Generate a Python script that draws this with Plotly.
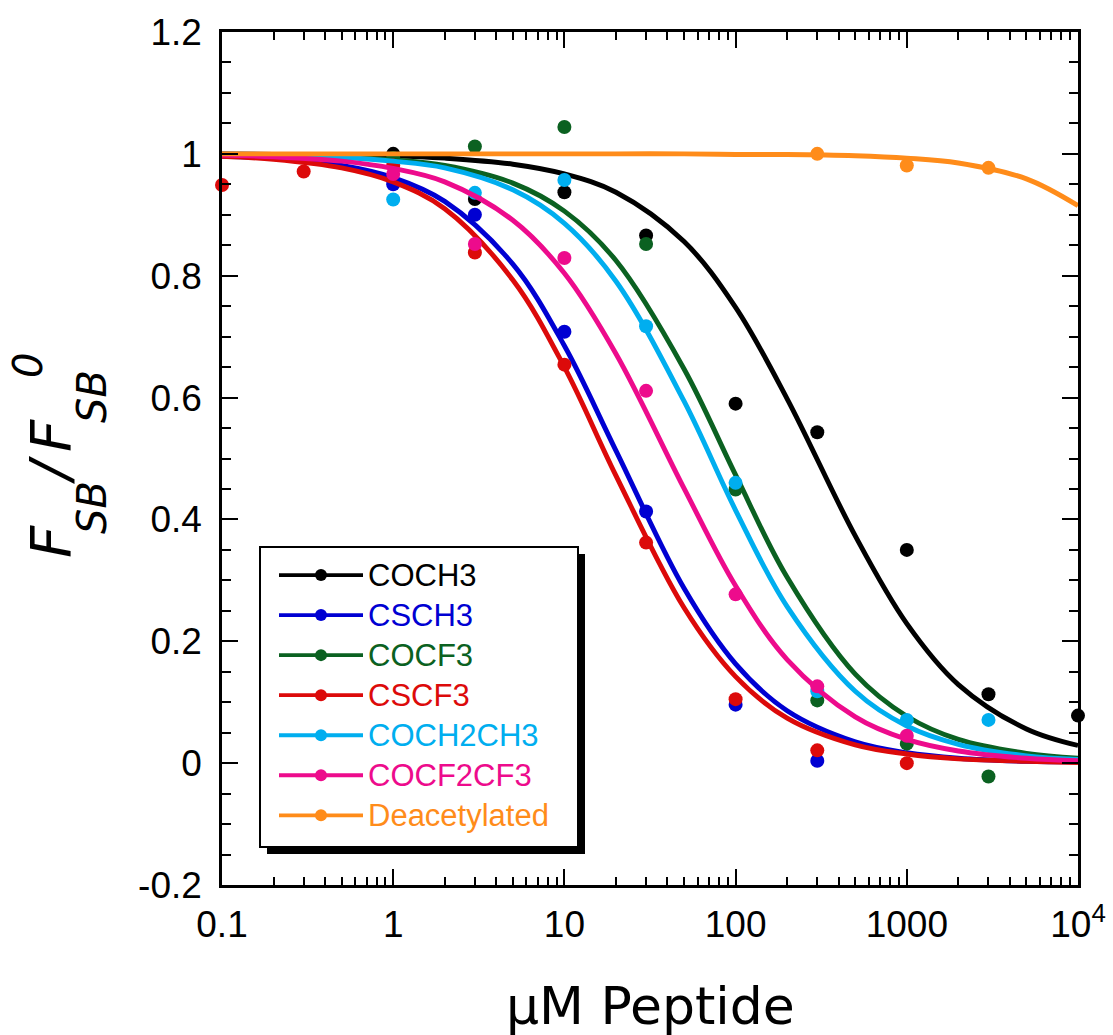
import plotly.graph_objects as go

# ---------------- data ----------------
series_names = ["COCH3", "CSCH3", "COCF3", "CSCF3", "COCH2CH3", "COCF2CF3", "Deacetylated"]
series_colors = ["#000000", "#0000d2", "#0b6121", "#dc0a0a", "#00aeef", "#ed0b8c", "#ff8c1a"]

fit_conc = [0.1, 0.2, 0.5, 1, 2, 5, 10, 20, 50, 100, 200, 500, 1000, 2000, 5000, 10000]

coch3_conc = [1, 3, 10, 30, 100, 300, 1000, 3000, 10000]
coch3_ratio = [1.0, 0.926, 0.937, 0.866, 0.590, 0.543, 0.350, 0.113, 0.078]
coch3_fit = [1.000, 0.999, 0.998, 0.997, 0.993, 0.983, 0.967, 0.937, 0.856, 0.748,
             0.598, 0.373, 0.229, 0.129, 0.056, 0.029]

csch3_conc = [1, 3, 10, 30, 100, 300]
csch3_ratio = [0.950, 0.900, 0.708, 0.413, 0.096, 0.004]
csch3_fit = [0.996, 0.993, 0.981, 0.961, 0.922, 0.819, 0.685, 0.513, 0.287, 0.163,
             0.086, 0.035, 0.017, 0.008, 0.003, 0.002]

cocf3_conc = [1, 3, 10, 30, 100, 300, 1000, 3000]
cocf3_ratio = [0.993, 1.012, 1.044, 0.852, 0.449, 0.103, 0.032, -0.022]
cocf3_fit = [0.999, 0.998, 0.995, 0.990, 0.981, 0.952, 0.906, 0.825, 0.647, 0.473,
             0.305, 0.146, 0.077, 0.039, 0.016, 0.008]

cscf3_conc = [0.1, 0.3, 1, 3, 10, 30, 100, 300, 1000]
cscf3_ratio = [0.949, 0.971, 0.981, 0.838, 0.654, 0.362, 0.105, 0.021, 0.0]
cscf3_fit = [0.996, 0.991, 0.977, 0.954, 0.910, 0.793, 0.650, 0.472, 0.255, 0.142,
             0.074, 0.030, 0.015, 0.007, 0.003, 0.001]

coch2ch3_conc = [1, 3, 10, 30, 100, 300, 1000, 3000]
coch2ch3_ratio = [0.925, 0.936, 0.957, 0.717, 0.460, 0.118, 0.071, 0.071]
coch2ch3_fit = [0.999, 0.998, 0.994, 0.988, 0.977, 0.941, 0.886, 0.791, 0.594, 0.415,
                0.257, 0.118, 0.061, 0.031, 0.012, 0.006]

cocf2cf3_conc = [1, 3, 10, 30, 100, 300, 1000]
cocf2cf3_ratio = [0.967, 0.852, 0.829, 0.611, 0.277, 0.126, 0.045]
cocf2cf3_fit = [0.998, 0.995, 0.988, 0.976, 0.954, 0.891, 0.804, 0.672, 0.451, 0.291,
                0.170, 0.076, 0.039, 0.020, 0.008, 0.004]

deacetylated_conc = [300, 1000, 3000]
deacetylated_ratio = [1.000, 0.981, 0.977]
deacetylated_fit = [1.000, 1.000, 1.000, 1.000, 1.000, 1.000, 1.000, 1.000, 1.000, 0.999,
                    0.999, 0.997, 0.993, 0.985, 0.959, 0.915]

x_tick_vals = [0.1, 1, 10, 100, 1000, 10000]
x_tick_text = ["0.1", "1", "10", "100", "1000", "10<sup>4</sup>"]
y_tick_vals = [-0.2, 0, 0.2, 0.4, 0.6, 0.8, 1.0, 1.2]
y_tick_text = ["-0.2", "0", "0.2", "0.4", "0.6", "0.8", "1", "1.2"]

points = [(coch3_conc, coch3_ratio), (csch3_conc, csch3_ratio), (cocf3_conc, cocf3_ratio),
          (cscf3_conc, cscf3_ratio), (coch2ch3_conc, coch2ch3_ratio),
          (cocf2cf3_conc, cocf2cf3_ratio), (deacetylated_conc, deacetylated_ratio)]
fits = [coch3_fit, csch3_fit, cocf3_fit, cscf3_fit, coch2ch3_fit, cocf2cf3_fit, deacetylated_fit]

# ---------------- layout geometry ----------------
W, H = 1113, 1035
L, R, T, B = 222, 1078, 32, 885  # plot area in pixels


def px(xp):
    return (xp - L) / (R - L)


def py(yp):
    return (B - yp) / (B - T)


fig = go.Figure()

for name, color, (cx, cy), fy in zip(series_names, series_colors, points, fits):
    fig.add_trace(go.Scatter(x=fit_conc, y=fy, mode="lines", line=dict(color=color, width=4.9, shape="spline"),
                             showlegend=False, hoverinfo="skip", cliponaxis=False))
    fig.add_trace(go.Scatter(x=cx, y=cy, mode="markers", marker=dict(color=color, size=14),
                             showlegend=False, cliponaxis=False))

# legend entries
for name, color in zip(series_names, series_colors):
    fig.add_trace(go.Scatter(x=[None], y=[None], mode="lines+markers",
                             line=dict(color=color, width=3.8), marker=dict(color=color, size=12),
                             name=f'<span style="color:{color};font-size:31px">{name}</span>'))

minor_x = [m * 10 ** e for e in range(-1, 4) for m in range(2, 10)]

tick_font = dict(family="Liberation Sans, Arial, sans-serif", size=37, color="black")
fig.update_xaxes(type="log", range=[-1, 4], tickvals=x_tick_vals, ticktext=x_tick_text,
                 ticks="inside", ticklen=16, tickwidth=2, tickcolor="black",
                 showline=True, linewidth=2.5, linecolor="black", mirror="allticks",
                 showgrid=False, zeroline=False, tickfont=tick_font, ticklabelstandoff=5,
                 ticklabeloverflow="allow", automargin=False,
                 minor=dict(tickvals=minor_x, ticks="inside", ticklen=8, tickwidth=2, tickcolor="black",
                            showgrid=False))
fig.update_yaxes(range=[-0.2, 1.2], tickvals=y_tick_vals, ticktext=y_tick_text,
                 ticks="inside", ticklen=16, tickwidth=2, tickcolor="black",
                 showline=True, linewidth=2.5, linecolor="black", mirror="allticks",
                 showgrid=False, zeroline=False, tickfont=tick_font, ticklabelstandoff=10,
                 ticklabeloverflow="allow", automargin=False,
                 minor=dict(dtick=0.05, ticks="inside", ticklen=9, tickwidth=2, tickcolor="black",
                            showgrid=False))

title_font_big = dict(family="DejaVu Sans", size=56, color="black")
title_font_small = dict(family="DejaVu Sans", size=40, color="black")
annotations = [
    dict(text="µM Peptide", x=0.5, y=py(1006), font=dict(family="DejaVu Sans", size=52, color="black")),
    dict(text="<i>F</i>", x=px(50), y=py(542), font=title_font_big, textangle=-90),
    dict(text="<i>SB</i>", x=px(92), y=py(508), font=title_font_small, textangle=-90),
    dict(text="<i>/</i>", x=px(50), y=py(471), font=title_font_big, textangle=-90),
    dict(text="<i>F</i>", x=px(50), y=py(436), font=title_font_big, textangle=-90),
    dict(text="<i>SB</i>", x=px(92), y=py(397), font=title_font_small, textangle=-90),
    dict(text="<i>0</i>", x=px(28), y=py(366), font=title_font_small, textangle=-90),
]
for a in annotations:
    a.update(xref="paper", yref="paper", showarrow=False, xanchor="center", yanchor="middle")

# legend frame (box with drop shadow) drawn as shapes; legend itself is transparent
legend_box = dict(x0=260, x1=578, y0=547, y1=847)
shadow = 7

fig.update_layout(
    width=W, height=H,
    margin=dict(l=L, r=W - R, t=T, b=H - B),
    plot_bgcolor="white", paper_bgcolor="white",
    annotations=annotations,
    legend=dict(x=px(274), y=py(550), xanchor="left", yanchor="top", bgcolor="rgba(0,0,0,0)",
                borderwidth=0, itemwidth=84, tracegroupgap=0,
                font=dict(family="Liberation Sans, Arial, sans-serif", size=28.5, color="black")),
    shapes=[
        dict(type="rect", xref="paper", yref="paper",
             x0=px(legend_box["x0"] + shadow), x1=px(legend_box["x1"] + shadow),
             y0=py(legend_box["y1"] + shadow), y1=py(legend_box["y0"] + shadow),
             fillcolor="black", line=dict(width=0), layer="above"),
        dict(type="rect", xref="paper", yref="paper",
             x0=px(legend_box["x0"]), x1=px(legend_box["x1"]),
             y0=py(legend_box["y1"]), y1=py(legend_box["y0"]),
             fillcolor="white", line=dict(color="black", width=2), layer="above"),
    ],
)

# the page's default body margin would shift the fixed-size figure; remove it
fig.write_html("out.html", config={"displayModeBar": False},
               post_script="document.body.style.margin='0px';")
